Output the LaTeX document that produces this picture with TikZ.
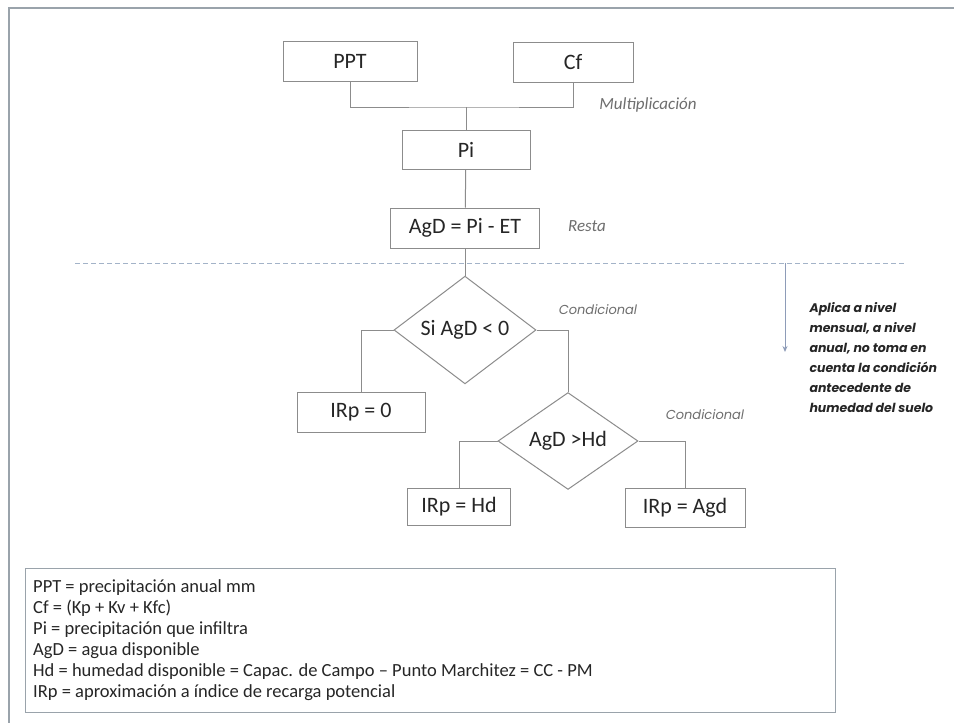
\documentclass[tikz,border=0pt]{standalone}
\usepackage{fontspec}
\setmainfont{Carlito}
\newfontfamily\notefont{Poppins}
\usetikzlibrary{shapes.geometric,arrows.meta}
\definecolor{linegray}{HTML}{8C8C8C}
\definecolor{textgray}{HTML}{262626}
\definecolor{labelgray}{HTML}{6E6E6E}
\definecolor{dashblue}{HTML}{A3B3C8}
\definecolor{arrowblue}{HTML}{8E9CB8}
\definecolor{framegray}{HTML}{9AA3AB}
\tikzset{
  box/.style={draw=linegray, line width=1pt, text=textgray, inner sep=0pt,
    font=\fontsize{22}{22}\selectfont},
  cond/.style={diamond, draw=linegray, line width=1pt, text=textgray, inner sep=0pt,
    minimum width=142pt, minimum height=95pt, font=\fontsize{22}{22}\selectfont},
  oplabel/.style={text=labelgray, font=\fontsize{17}{17}\selectfont\itshape},
  condlabel/.style={text=labelgray, font=\notefont\fontsize{13}{13}\selectfont\itshape},
  link/.style={draw=linegray, line width=1pt}
}
\begin{document}
\begin{tikzpicture}[x=1pt,y=-1pt]
        \useasboundingbox (0,0) rectangle (954,723);
        \fill[white] (0,0) rectangle (954,723);
        \draw[framegray, line width=1.5pt] (9,723) -- (9,8) -- (954,8);
        % upper chain
        \node[box, minimum width=134pt, minimum height=40pt] (ppt) at (350,61) {PPT};
        \node[box, minimum width=120pt, minimum height=40pt] (cf) at (573,62) {Cf};
        \coordinate (mrg) at (466,107);
        \node[oplabel] (mult) at (648,105) {Multiplicación};
        \node[box, minimum width=128pt, minimum height=39pt] (pi) at (466,150) {Pi};
        \node[box, minimum width=149pt, minimum height=40pt] (agd) at (465,228) {AgD = Pi - ET};
        \node[oplabel] (resta) at (587,226) {Resta};
        \path[link] (ppt.south) |- (mrg) -| (cf.south);
        \path[link] (mrg) -- (pi.north);
        \path[link] (pi) -- (agd);
        % monthly / annual split
        \coordinate (dl) at (75,263);
        \coordinate (dr) at (905,263);
        \draw[dashblue, line width=1pt, dash pattern=on 5pt off 3pt] (dl) -- (dr);
        \coordinate (ar1) at (785,263);
        \coordinate (ar2) at (785,352);
        \draw[arrowblue, line width=1pt, -{Stealth[length=6pt,width=5pt]}] (ar1) -- (ar2);
        \node[anchor=north west, align=left, text=textgray,
          font=\notefont\fontsize{12.5}{20}\selectfont\bfseries\itshape] (note) at (806,299)
          {Aplica a nivel\\ mensual, a nivel\\ anual, no toma en\\ cuenta la condición\\ antecedente de\\ humedad del suelo};
        % conditions
        \node[cond] (d1) at (465,330) {Si AgD < 0};
        \node[condlabel] (c1) at (598,310) {Condicional};
        \node[box, minimum width=128pt, minimum height=40pt] (irp0) at (361,412) {IRp = 0};
        \node[cond, minimum width=140pt] (d2) at (568,441) {AgD >Hd};
        \node[condlabel] (c2) at (705,415) {Condicional};
        \node[box, minimum width=103pt, minimum height=37pt] (irphd) at (459,507) {IRp = Hd};
        \node[box, minimum width=120pt, minimum height=39pt] (irpagd) at (685,508) {IRp = Agd};
        \path[link] (agd) -- (d1);
        \path[link] (d1.west) -| (irp0.north);
        \path[link] (d1.east) -| (d2.north);
        \path[link] (d2.west) -| (irphd.north);
        \path[link] (d2.east) -| (irpagd.north);
        % legend
        \node[draw=framegray, line width=1pt, minimum width=810pt, minimum height=144pt,
          inner sep=0pt] (legend) at (430,640) {};
        \node[anchor=north west, align=left, text=textgray, inner sep=0pt,
          font=\fontsize{18.5}{21}\selectfont] (legtext) at (33,579)
          {PPT = precipitación anual mm\\
           Cf = (Kp + Kv + Kfc)\\
           Pi = precipitación que infiltra\\
           AgD = agua disponible\\
           Hd = humedad disponible = Capac. de Campo -- Punto Marchitez = CC - PM\\
           IRp = aproximación a índice de recarga potencial};
      \end{tikzpicture}
\end{document}
